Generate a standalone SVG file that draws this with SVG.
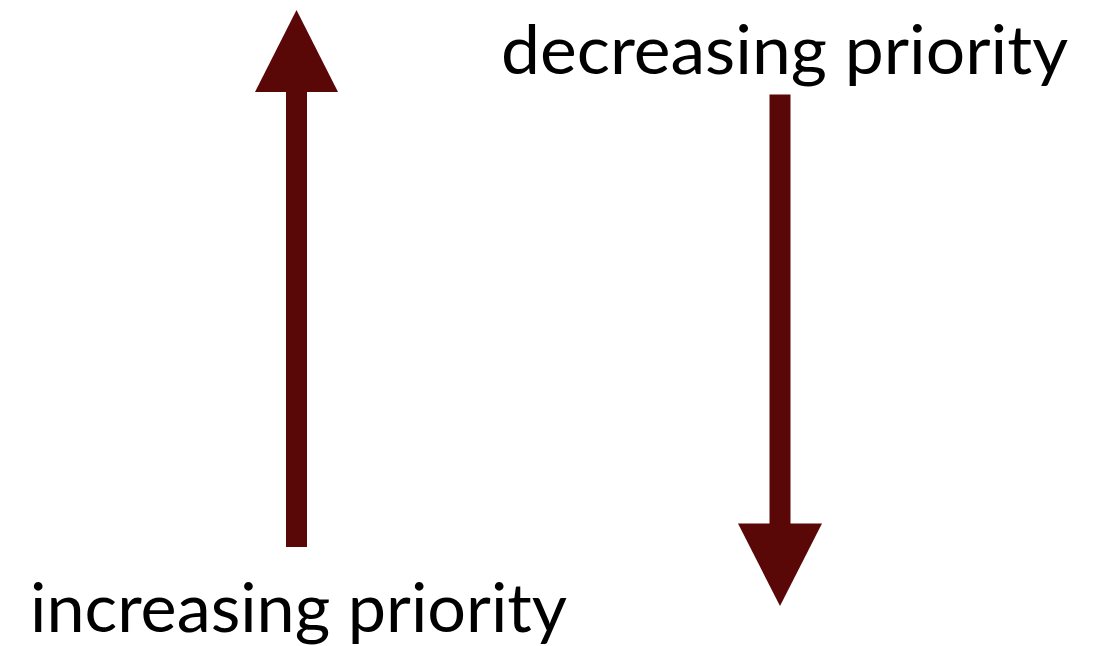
<svg xmlns="http://www.w3.org/2000/svg" width="1097" height="646" viewBox="0 0 1097 646">
<style>
.arrow{fill:#5a0707}
.lbl{font-family:"Lato","Open Sans","Liberation Sans",sans-serif;font-size:68px;fill:#000}
</style>
<rect width="1097" height="646" fill="#fff"/>
<g id="connectors">
<g id="up-arrow">
<rect class="arrow" x="286" y="90" width="21" height="457"/>
<polygon class="arrow" points="296.5,10 338,92 255,92"/>
</g>
<g id="down-arrow">
<rect class="arrow" x="769.5" y="94.5" width="21" height="431"/>
<polygon class="arrow" points="738,523.5 822,523.5 780,606"/>
</g>
</g>
<g id="label-decreasing">
<text class="lbl" x="501" y="74" textLength="567" lengthAdjust="spacingAndGlyphs">decreasing priority</text>
</g>
<g id="label-increasing">
<text class="lbl" x="30" y="632" textLength="537" lengthAdjust="spacingAndGlyphs">increasing priority</text>
</g>
</svg>
